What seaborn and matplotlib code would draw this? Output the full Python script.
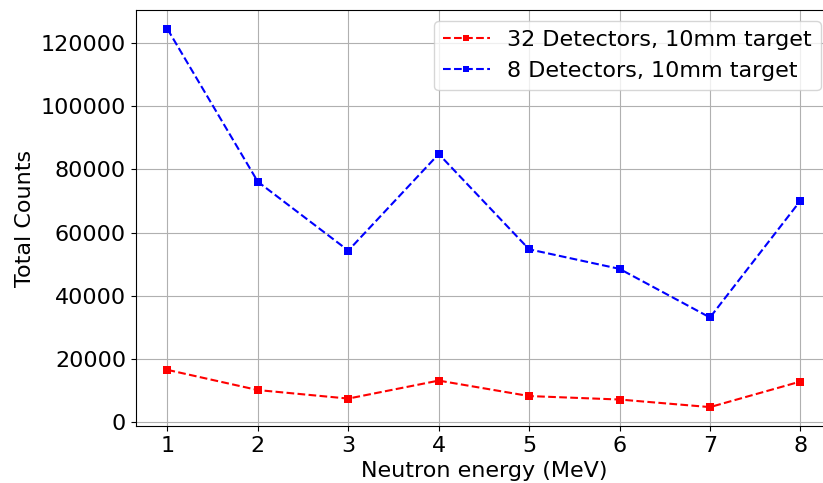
import matplotlib
matplotlib.use("Agg")
import matplotlib.pyplot as plt
import seaborn as sns
import pandas as pd

energy = [1, 2, 3, 4, 5, 6, 7, 8]
det32 = [16500, 10100, 7400, 13100, 8200, 7100, 4700, 12800]
det8 = [124500, 76100, 54300, 84900, 54700, 48500, 33100, 70100]
labels = ["32 Detectors, 10mm target", "8 Detectors, 10mm target"]

df = pd.concat([
    pd.DataFrame({"energy": energy, "counts": det32, "series": labels[0]}),
    pd.DataFrame({"energy": energy, "counts": det8, "series": labels[1]}),
])

plt.rcParams['font.family'] = ['DejaVu Sans']
fig = plt.figure(figsize=(8.23, 4.83), dpi=100)
ax = fig.add_axes([0.165, 0.118, 0.846, 0.861])
sns.lineplot(data=df, x="energy", y="counts", hue="series",
             palette={labels[0]: "red", labels[1]: "blue"},
             marker="s", markersize=6, markeredgewidth=0, linestyle="--",
             linewidth=1.5, ax=ax)
ax.grid(True, color="#b0b0b0", linewidth=0.8)
ax.set_axisbelow(True)
ax.set_xlabel("Neutron energy (MeV)", fontsize=16)
ax.set_ylabel("Total Counts", fontsize=16)
ax.tick_params(labelsize=16)
ax.set_xticks(energy)
for s in ax.spines.values():
    s.set_color("black")
leg = ax.legend(fontsize=16, loc="upper right", handlelength=2.1)
for l in leg.get_lines():
    l.set_linestyle("--")
    l.set_markersize(5)
fig.savefig("out.png", dpi=100)
